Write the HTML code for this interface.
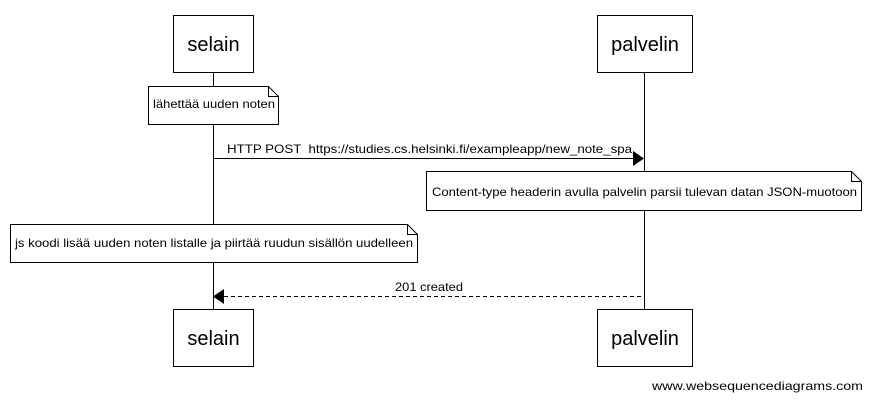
<!DOCTYPE html>
<html><head><style>body{margin:0;background:#fff}</style></head><body>
<svg width="872" height="400" xmlns="http://www.w3.org/2000/svg" font-family="Liberation Sans, Arial, sans-serif">
<rect width="872" height="400" fill="#fff"/>
<g stroke="#000" stroke-width="1" fill="none">
<line x1="213.5" y1="72" x2="213.5" y2="309"/>
<line x1="644.5" y1="72" x2="644.5" y2="309"/>
</g>
<g stroke="#000" fill="#fff">
<rect x="173.5" y="15.5" width="80" height="57"/>
<rect x="597.5" y="15.5" width="95" height="57"/>
<rect x="173.5" y="309.5" width="80" height="57"/>
<rect x="597.5" y="309.5" width="95" height="57"/>
<path d="M148.5 86.5 H268.5 L278.5 96.5 V124.5 H148.5 Z"/>
<path d="M268.5 86.5 V96.5 H278.5" fill="none"/>
<path d="M426.5 171.5 H851.5 L861.5 181.5 V210.5 H426.5 Z"/>
<path d="M851.5 171.5 V181.5 H861.5" fill="none"/>
<path d="M10.5 224.5 H407.5 L417.5 234.5 V262.5 H10.5 Z"/>
<path d="M407.5 224.5 V234.5 H417.5" fill="none"/>
</g>
<line x1="213" y1="158.5" x2="634" y2="158.5" stroke="#000"/>
<polygon points="644,158.5 633,151 633,166" fill="#000"/>
<line x1="224" y1="296.5" x2="644" y2="296.5" stroke="#000" stroke-dasharray="4,3"/>
<polygon points="213,296.5 224,289 224,304" fill="#000"/>
<g font-size="20" text-anchor="middle">
<text x="213.5" y="51">selain</text>
<text x="645" y="51">palvelin</text>
<text x="213.5" y="345">selain</text>
<text x="645" y="345">palvelin</text>
</g>
<g font-size="12">
<text x="153" y="108" textLength="122" lengthAdjust="spacingAndGlyphs">lähettää uuden noten</text>
<text x="227" y="153" textLength="405" lengthAdjust="spacingAndGlyphs" xml:space="preserve">HTTP POST  https://studies.cs.helsinki.fi/exampleapp/new_note_spa</text>
<text x="432" y="196" textLength="425" lengthAdjust="spacingAndGlyphs">Content-type headerin avulla palvelin parsii tulevan datan JSON-muotoon</text>
<text x="15" y="247" textLength="398" lengthAdjust="spacingAndGlyphs">js koodi lisää uuden noten listalle ja piirtää ruudun sisällön uudelleen</text>
<text x="395" y="291" textLength="68" lengthAdjust="spacingAndGlyphs">201 created</text>
<text x="652" y="390" textLength="211" lengthAdjust="spacingAndGlyphs">www.websequencediagrams.com</text>
</g>
</svg>
</body></html>
